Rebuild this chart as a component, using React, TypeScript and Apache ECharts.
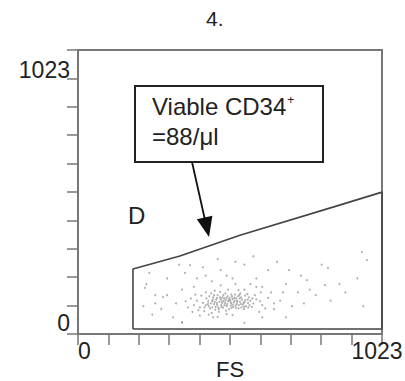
import React, { useEffect, useRef } from "react";
import * as echarts from "echarts";

const titleText = "4.";
const xAxisName = "FS";
const axisRange = [0, 1023];
const tickStep = 102.3;
const endLabels = ["0", "1023"];
const gateLabel = "D";
const boxLines = ["Viable CD34{sup|+}", "=88/μl"];

// gate polygon (FS, SS channels)
const gateFS = [185, 185, 343, 545, 858, 1023, 1023, 185];
const gateSS = [18, 234, 281, 356, 457, 511, 18, 18];

// events inside the gate
const cellEvents: number[][] = [
  [452,118],[468,105],[480,126],[495,112],[510,130],[522,98],[536,120],[548,108],[470,140],[488,95],
  [505,118],[518,135],[530,102],[544,128],[560,115],[575,132],[590,110],[440,100],[455,132],[462,88],
  [476,116],[492,128],[500,100],[515,110],[528,142],[540,92],[552,124],[565,100],[580,120],[420,112],
  [432,128],[445,92],[458,108],[472,96],[486,132],[498,84],[512,122],[524,114],[538,136],[550,96],
  [562,138],[585,98],[600,125],[410,96],[425,82],[438,118],[450,76],[465,124],[482,104],[496,146],
  [508,90],[520,126],[534,108],[546,146],[558,90],[572,112],[595,140],[612,118],[400,120],[415,138],
  [430,104],[448,146],[460,116],[474,80],[490,118],[503,136],[517,94],[532,128],[555,106],[570,144],
  [620,104],[390,104],[405,86],[380,128],[395,142],[640,130],[630,92],[615,150],[478,152],[505,160],
  [540,158],[560,160],[460,156],[430,150],[370,96],[385,80],[362,118],[440,70],[470,62],[500,72],
  [455,60],[520,68],[410,66],[230,180],[260,140],[300,200],[330,110],[350,160],[280,90],[250,70],
  [320,60],[360,220],[400,200],[420,240],[450,190],[480,230],[500,210],[530,180],[560,250],[600,200],
  [620,170],[650,150],[680,120],[700,180],[720,100],[640,230],[670,260],[710,230],[750,210],[780,160],
  [800,140],[760,110],[850,120],[880,180],[900,150],[940,200],[960,100],[820,250],[590,280],[530,260],
  [470,270],[430,210],[390,170],[340,250],[300,140],[700,60],[620,60],[560,40],[350,40],[260,110],
  [240,220],[220,100],[600,170],[660,90],[740,150],[955,295],[972,266],[841,238],[831,176],[770,194],
  [225,166],[377,248],[286,133],[350,43],[610,80],[660,110],[690,150],[580,180],[520,200],[480,175],
  [447,110],[463,98],[478,132],[493,104],[507,124],[521,106],[535,116],[549,132],[563,122],[577,104],
  [453,124],[467,112],[483,98],[497,122],[513,116],[527,120],[541,104],[557,112],[571,124],[485,112],
  [442,136],[458,140],[474,90],[489,140],[502,108],[516,142],[531,94],[545,116],[559,98],[573,96],
  [425,96],[437,108],[452,96],[468,130],[484,120],[499,130],[514,102],[526,130],[543,140],[587,128]
];

export default function App() {
  const ref = useRef<HTMLDivElement>(null);
  useEffect(() => {
    if (!ref.current) return;
    const chart = echarts.init(ref.current, null, { renderer: "svg" });
    const font = "Liberation Sans, Arial, Helvetica, sans-serif";
    const fmtX = (v: number) => {
      const r = Math.round(v);
      if (r === axisRange[0]) return endLabels[0];
      if (r === axisRange[1]) return "{r|" + endLabels[1] + "}";
      return "";
    };
    const fmtY = (v: number) => {
      const r = Math.round(v);
      if (r === axisRange[0]) return endLabels[0];
      if (r === axisRange[1]) return "{t|" + endLabels[1] + "}";
      return "";
    };
    const axisCommon = {
      type: "value",
      min: axisRange[0],
      max: axisRange[1],
      interval: tickStep,
      splitLine: { show: false },
      axisLine: { show: true, lineStyle: { color: "#777", width: 2 } },
      axisTick: { show: true, length: 11, lineStyle: { color: "#777", width: 1.5 } },
    };
    chart.setOption({
      animation: false,
      backgroundColor: "#fff",
      grid: {
        left: 78,
        right: 23,
        top: 50,
        bottom: 47,
        show: true,
        borderColor: "#777",
        borderWidth: 2,
        containLabel: false,
        outerBoundsMode: "none",
      },
      xAxis: {
        ...axisCommon,
        name: xAxisName,
        nameLocation: "middle",
        nameGap: 25,
        nameMoveOverlap: false,
        nameTextStyle: { fontFamily: font, fontSize: 22, color: "#222", verticalAlign: "top", lineHeight: 20 },
        axisLabel: {
          formatter: fmtX,
          fontFamily: font,
          fontSize: 23,
          color: "#222",
          margin: 5,
          alignMinLabel: "left",
          showMinLabel: true,
          showMaxLabel: true,
          rich: { r: { fontFamily: font, fontSize: 23, color: "#222", padding: [0, 10, 0, 0] } },
        },
      },
      yAxis: {
        ...axisCommon,
        axisLabel: {
          formatter: fmtY,
          fontFamily: font,
          fontSize: 23,
          color: "#222",
          margin: 8,
          verticalAlignMinLabel: "bottom",
          verticalAlignMaxLabel: "top",
          showMinLabel: true,
          showMaxLabel: true,
          rich: { t: { fontFamily: font, fontSize: 23, color: "#222", padding: [8, 0, 0, 0] } },
        },
      },
      series: [
        {
          type: "scatter",
          data: cellEvents,
          symbolSize: 2,
          itemStyle: { color: "#999", opacity: 0.8 },
        },
        {
          type: "line",
          data: gateFS.map((x, i) => [x, gateSS[i]]),
          symbol: "none",
          lineStyle: { color: "#444", width: 1.6 },
        },
      ],
      graphic: [
        {
          type: "text",
          x: 206,
          y: 8,
          style: { text: titleText, fontFamily: font, fontSize: 21, fill: "#222" },
        },
        {
          type: "rect",
          shape: { x: 135, y: 86, width: 188, height: 76 },
          style: { fill: "#fff", stroke: "#222", lineWidth: 2 },
          z: 10,
        },
        {
          type: "text",
          x: 152,
          y: 94,
          style: {
            text: boxLines[0],
            fontFamily: font,
            fontSize: 24,
            fill: "#222",
            rich: { sup: { fontSize: 12, verticalAlign: "top", padding: [0, 0, 10, 1] } },
          },
          z: 11,
        },
        {
          type: "text",
          x: 152,
          y: 124,
          style: { text: boxLines[1], fontFamily: font, fontSize: 24, fill: "#222" },
          z: 11,
        },
        {
          type: "text",
          x: 128,
          y: 203,
          style: { text: gateLabel, fontFamily: font, fontSize: 24, fill: "#222" },
          z: 11,
        },
        {
          type: "line",
          shape: { x1: 192, y1: 162, x2: 205, y2: 220 },
          style: { stroke: "#111", lineWidth: 1.8 },
          z: 11,
        },
        {
          type: "polygon",
          shape: { points: [[209, 237], [212.4, 215.7], [196.8, 219.3]] },
          style: { fill: "#111" },
          z: 11,
        },
      ],
    });
    return () => chart.dispose();
  }, []);
  return (
    <div
      ref={ref}
      style={{ position: "fixed", left: 0, top: 0, width: 405, height: 381 }}
    />
  );
}
